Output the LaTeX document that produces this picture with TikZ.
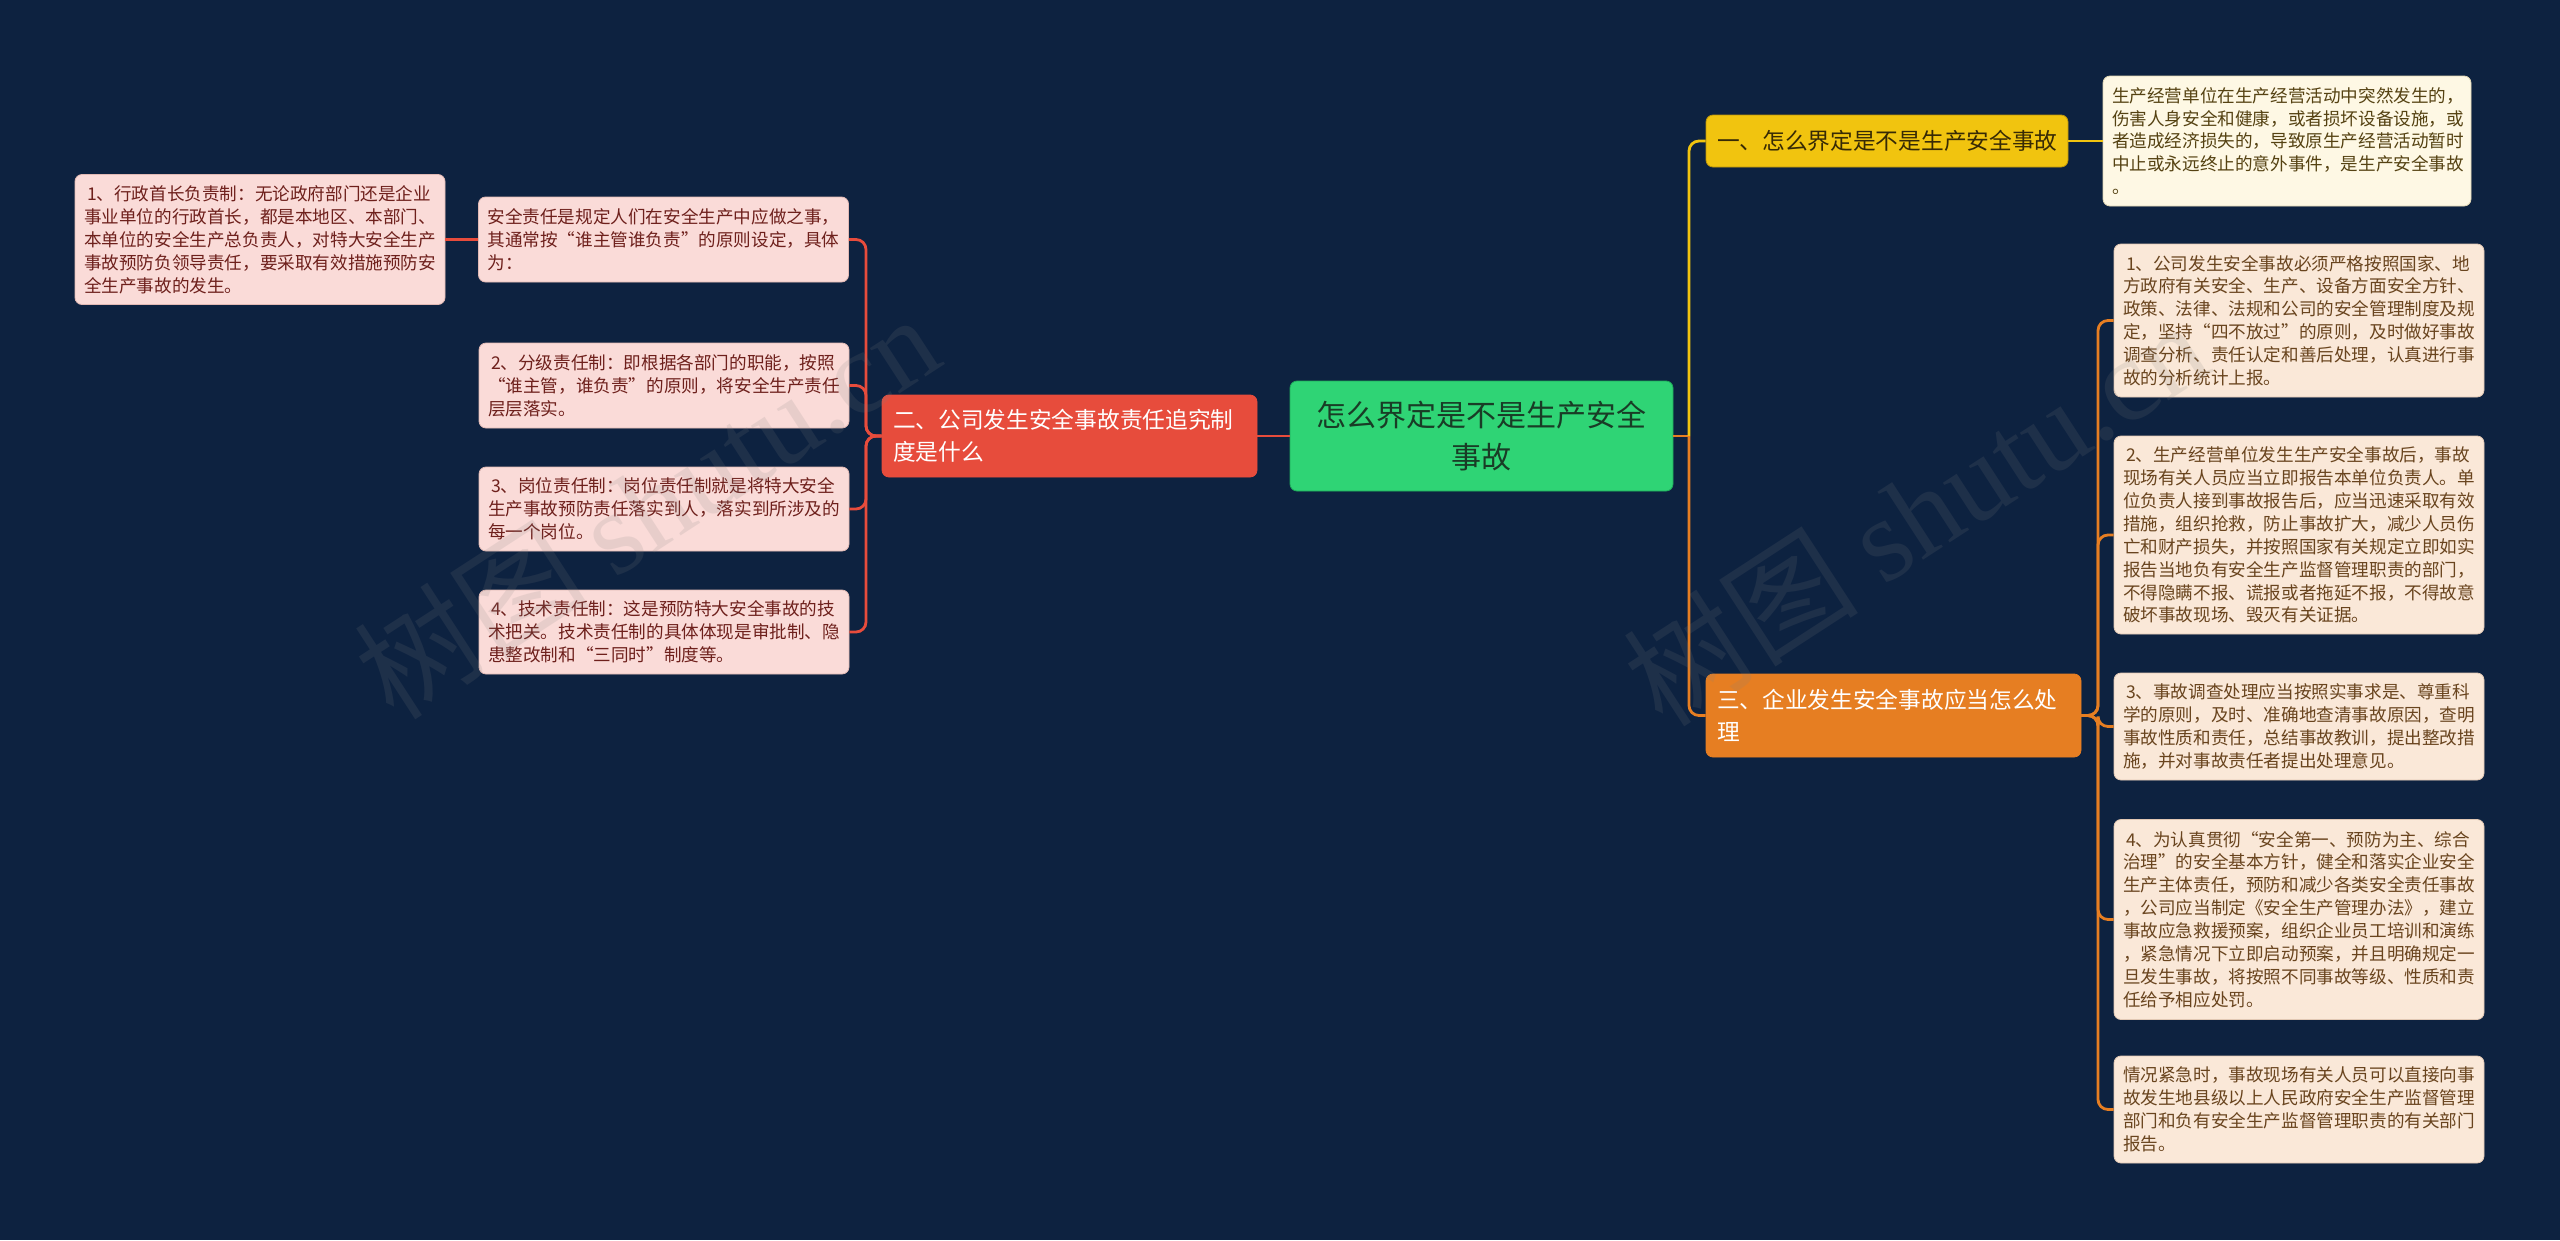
\documentclass[tikz,border=0pt]{standalone}
\usepackage{fontspec}
\setmainfont{Noto Sans CJK SC}
\newfontfamily\wmfont{Liberation Serif}
\usetikzlibrary{calc}
\definecolor{bg}{RGB}{13,34,64}
\definecolor{cfill}{RGB}{47,212,117}
\definecolor{cdraw}{RGB}{30,170,90}
\definecolor{ctext}{RGB}{25,60,38}
\definecolor{redc}{RGB}{231,76,60}
\definecolor{yelc}{RGB}{241,196,15}
\definecolor{yeldraw}{RGB}{190,150,10}
\definecolor{yeltext}{RGB}{55,42,5}
\definecolor{orac}{RGB}{230,126,34}
\definecolor{lfill}{RGB}{250,219,216}
\definecolor{ldraw}{RGB}{225,185,180}
\definecolor{ltext}{RGB}{110,32,28}
\definecolor{yfill}{RGB}{254,248,228}
\definecolor{ydraw}{RGB}{225,215,180}
\definecolor{ytext}{RGB}{85,66,18}
\definecolor{ofill}{RGB}{250,232,216}
\definecolor{odraw}{RGB}{225,200,180}
\definecolor{otext}{RGB}{105,68,30}
\newcommand\zoq{\makebox[1em][r]{“}}
\newcommand\zcq{\makebox[1em][l]{”}}
\tikzset{
  box/.style={rectangle, rounded corners=7pt, inner ysep=0pt, align=left},
  leaf/.style={box, minimum width=370pt, text width=352pt, inner xsep=9pt, line width=0.8pt, font=\fontsize{17.6}{22.9}\selectfont},
  lleaf/.style={leaf, fill=lfill, draw=ldraw, text=ltext},
  yleaf/.style={leaf, fill=yfill, draw=ydraw, text=ytext},
  oleaf/.style={leaf, fill=ofill, draw=odraw, text=otext},
  branch/.style={box, inner xsep=11pt, line width=0.8pt, font=\fontsize{22.7}{31.7}\selectfont},
  conn/.style={line width=2.8pt, rounded corners=10pt},
  wm/.style={text=gray, opacity=0.15, font=\fontsize{118}{128}\selectfont}
}
\begin{document}
\begin{tikzpicture}[x=1pt,y=-1pt]
\fill[bg] (0,0) rectangle (2560,1240);
% center
\node[box, align=center, fill=cfill, draw=cdraw, line width=0.8pt, text=ctext, minimum width=383pt, minimum height=110pt, text width=360pt, inner xsep=11pt, font=\fontsize{30}{41.7}\selectfont] (center) at (1481.5,436) {怎么界定是不是生产安全\\事故};
% branches
\node[branch, fill=redc, draw=redc, text=white, minimum width=375pt, minimum height=82pt, text width=353pt] (red) at (1069.5,436) {二、公司发生安全事故责任追究制\\度是什么};
\node[branch, fill=yelc, draw=yeldraw, text=yeltext, minimum width=362pt, minimum height=52pt, text width=340pt] (yellow) at (1887,141) {一、怎么界定是不是生产安全事故};
\node[branch, fill=orac, draw=orac, text=white, minimum width=375pt, minimum height=83pt, text width=353pt] (orange) at (1893.5,715.5) {三、企业发生安全事故应当怎么处\\理};
% left leaves
\node[lleaf, minimum height=85pt] (L0) at (663.5,239.5) {安全责任是规定人们在安全生产中应做之事，\\其通常按\zoq 谁主管谁负责\zcq 的原则设定，具体\\为：};
\node[lleaf, minimum height=130pt] (L1) at (260,239.5) {\hspace*{3pt}1、行政首长负责制：无论政府部门还是企业\\事业单位的行政首长，都是本地区、本部门、\\本单位的安全生产总负责人，对特大安全生产\\事故预防负领导责任，要采取有效措施预防安\\全生产事故的发生。};
\node[lleaf, minimum height=85pt] (L2) at (664,385.5) {\hspace*{3pt}2、分级责任制：即根据各部门的职能，按照\\\zoq 谁主管，谁负责\zcq 的原则，将安全生产责任\\层层落实。};
\node[lleaf, minimum height=84pt] (L3) at (664,509) {\hspace*{3pt}3、岗位责任制：岗位责任制就是将特大安全\\生产事故预防责任落实到人，落实到所涉及的\\每一个岗位。};
\node[lleaf, minimum height=84pt] (L4) at (664,632) {\hspace*{3pt}4、技术责任制：这是预防特大安全事故的技\\术把关。技术责任制的具体体现是审批制、隐\\患整改制和\zoq 三同时\zcq 制度等。};
% right leaves
\node[yleaf, minimum height=130pt, minimum width=368pt, text width=350pt] (Y1) at (2287,141) {生产经营单位在生产经营活动中突然发生的，\\伤害人身安全和健康，或者损坏设备设施，或\\者造成经济损失的，导致原生产经营活动暂时\\中止或永远终止的意外事件，是生产安全事故\\。};
\node[oleaf, minimum height=153pt] (R1) at (2299,320.5) {\hspace*{3pt}1、公司发生安全事故必须严格按照国家、地\\方政府有关安全、生产、设备方面安全方针、\\政策、法律、法规和公司的安全管理制度及规\\定，坚持\zoq 四不放过\zcq 的原则，及时做好事故\\调查分析、责任认定和善后处理，认真进行事\\故的分析统计上报。};
\node[oleaf, minimum height=198pt] (R2) at (2299,535) {\hspace*{3pt}2、生产经营单位发生生产安全事故后，事故\\现场有关人员应当立即报告本单位负责人。单\\位负责人接到事故报告后，应当迅速采取有效\\措施，组织抢救，防止事故扩大，减少人员伤\\亡和财产损失，并按照国家有关规定立即如实\\报告当地负有安全生产监督管理职责的部门，\\不得隐瞒不报、谎报或者拖延不报，不得故意\\破坏事故现场、毁灭有关证据。};
\node[oleaf, minimum height=107pt] (R3) at (2299,726.5) {\hspace*{3pt}3、事故调查处理应当按照实事求是、尊重科\\学的原则，及时、准确地查清事故原因，查明\\事故性质和责任，总结事故教训，提出整改措\\施，并对事故责任者提出处理意见。};
\node[oleaf, minimum height=200pt] (R4) at (2299,919.5) {\hspace*{3pt}4、为认真贯彻\zoq 安全第一、预防为主、综合\\治理\zcq 的安全基本方针，健全和落实企业安全\\生产主体责任，预防和减少各类安全责任事故\\，公司应当制定《安全生产管理办法》，建立\\事故应急救援预案，组织企业员工培训和演练\\，紧急情况下立即启动预案，并且明确规定一\\旦发生事故，将按照不同事故等级、性质和责\\任给予相应处罚。};
\node[oleaf, minimum height=107pt] (R5) at (2299,1109.5) {情况紧急时，事故现场有关人员可以直接向事\\故发生地县级以上人民政府安全生产监督管理\\部门和负有安全生产监督管理职责的有关部门\\报告。};
% connectors
\coordinate (jL) at (866,436);
\coordinate (jR) at (1689,436);
\coordinate (jO) at (2098,715.5);
\draw[conn, redc] (center.west) -- (red.east);
\draw[conn, redc] (red.west) -- (jL) |- (L0.east);
\draw[conn, redc] (red.west) -- (jL) |- (L2.east);
\draw[conn, redc] (red.west) -- (jL) |- (L3.east);
\draw[conn, redc] (red.west) -- (jL) |- (L4.east);
\draw[conn, redc] (L0.west) -- (L1.east);
\draw[conn, orac] (center.east) -- (jR);
\draw[conn, yelc] (jR) |- (yellow.west);
\draw[conn, orac] (jR) |- (orange.west);
\draw[conn, yelc] (yellow.east) -- (Y1.west);
\draw[conn, orac] (orange.east) -- (jO) |- (R1.west);
\draw[conn, orac] (orange.east) -- (jO) |- (R2.west);
\draw[conn, orac] (orange.east) -- (jO) |- (R3.west);
\draw[conn, orac] (orange.east) -- (jO) |- (R4.west);
\draw[conn, orac] (orange.east) -- (jO) |- (R5.west);
% watermarks
\node[wm, rotate=33] (wm1) at (646,505) {树图 {\wmfont shutu.cn}};
\node[wm, rotate=33] (wm2) at (1915,512) {树图 {\wmfont shutu.cn}};
\end{tikzpicture}
\end{document}
